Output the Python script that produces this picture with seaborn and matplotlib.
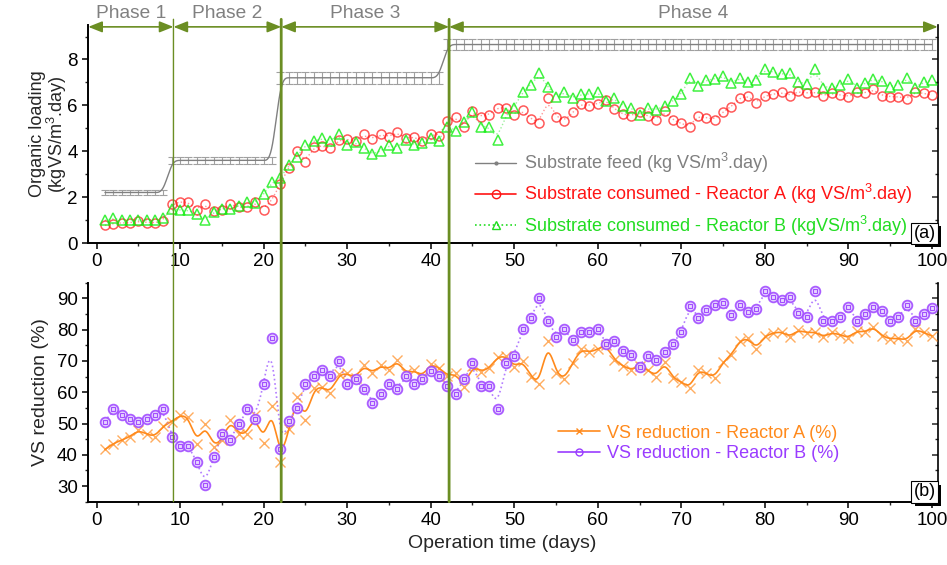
import numpy as np
import matplotlib
matplotlib.use("Agg")
import matplotlib.pyplot as plt
import seaborn as sns
from matplotlib.lines import Line2D
from matplotlib.patches import ConnectionPatch
from matplotlib.ticker import MultipleLocator
import matplotlib.patheffects as pe

# ---------------- data ----------------
days = list(range(1, 101))
feed = [2.2] * 8 + [3.6] * 13 + [7.2] * 20 + [8.65] * 59
feed_err = [0.11] * 8 + [0.17] * 13 + [0.25] * 20 + [0.26] * 59

consumed_a = [0.77, 0.85, 0.88, 0.88, 0.95, 0.89, 0.89, 0.95,
              1.69, 1.80, 1.77, 1.46, 1.68, 1.40, 1.46, 1.72, 1.55, 1.55, 1.78, 1.46, 1.87,
              2.59, 3.28, 4.00, 3.51, 4.20, 4.24, 4.12, 4.48, 4.53, 4.44, 4.73, 4.53, 4.73, 4.63,
              4.82, 4.56, 4.63, 4.44, 4.73, 4.67,
              5.31, 5.50, 5.07, 5.75, 5.50, 5.60, 5.90,
              5.90, 5.58, 5.79, 5.40, 5.21, 6.30, 5.50, 5.31, 5.69, 6.08, 5.98, 6.08, 6.23, 5.84,
              5.61, 5.55, 5.69, 5.55, 5.36, 5.75, 5.36, 5.21, 5.07, 5.55, 5.46,
              5.38, 5.72, 5.94, 6.33, 6.42, 6.09, 6.42, 6.48, 6.57, 6.41, 6.62, 6.52, 6.59, 6.42,
              6.52, 6.45, 6.38, 6.57, 6.52, 6.71, 6.42, 6.38, 6.38, 6.28, 6.59, 6.52, 6.45]

consumed_b = [0.99, 1.07, 1.02, 1.02, 0.99, 0.99, 1.02, 1.07,
              1.50, 1.43, 1.43, 1.26, 0.99, 1.33, 1.50, 1.47, 1.61, 1.80, 1.75, 2.12, 2.64,
              2.82, 3.39, 3.76, 4.27, 4.44, 4.56, 4.44, 4.73, 4.27, 4.39, 4.15, 3.86, 4.00, 4.27,
              4.15, 4.48, 4.27, 4.34, 4.56, 4.44,
              5.07, 4.88, 5.26, 5.69, 5.07, 5.07, 4.48,
              5.65, 5.90, 6.59, 6.89, 7.40, 6.81, 6.38, 6.59, 6.30, 6.48, 6.48, 6.59, 6.19, 6.30,
              5.98, 5.90, 5.58, 5.90, 5.79, 5.98, 6.19, 6.48, 7.21, 6.86, 7.10,
              7.15, 7.29, 6.96, 7.21, 7.03, 7.10, 7.58, 7.44, 7.35, 7.40, 7.00, 6.91, 7.58, 6.77,
              6.77, 6.89, 7.15, 6.77, 6.96, 7.15, 7.06, 6.81, 6.89, 7.21, 6.77, 7.00, 7.10]

vs_a = [41.7, 43.6, 44.7, 45.8, 47.9, 46.6, 45.8, 49.3, 50.6, 52.7, 52.2, 43.6, 49.8, 42.6,
        44.7, 51.1, 46.6, 46.8, 52.7, 43.9, 55.7, 37.8, 48.1, 58.4,
        51.1, 61.2, 61.7, 59.8, 65.7, 66.0, 64.5, 68.7, 66.0, 68.7, 67.1, 70.3, 66.0, 67.1,
        65.0, 69.0, 67.9, 65.2, 66.0, 61.7, 68.5, 66.6, 67.6, 71.3,
        71.6, 68.0, 70.1, 65.0, 62.6, 76.5, 66.2, 64.1, 69.4, 73.8, 72.7, 73.8, 75.1, 70.3,
        68.4, 67.1, 68.4, 67.1, 65.0, 69.8, 64.4, 63.4, 61.2, 67.1, 66.0,
        64.7, 69.7, 71.9, 76.5, 77.3, 73.8, 78.0, 78.9, 79.4, 77.6, 80.0, 78.9, 79.4, 77.6,
        79.1, 78.4, 77.3, 79.7, 79.1, 81.0, 78.0, 77.0, 77.3, 76.5, 80.2, 79.1, 78.0]

vs_b = [50.6, 54.5, 52.7, 51.6, 50.6, 51.6, 52.7, 54.5, 45.8, 42.9, 42.9, 37.8, 30.3, 39.4,
        46.5, 44.7, 49.7, 54.5, 51.6, 62.6, 77.4, 41.8, 50.8, 55.1,
        62.5, 65.3, 67.1, 65.3, 70.0, 62.5, 64.2, 61.0, 56.6, 59.4, 62.5, 61.0, 65.3, 62.5,
        64.2, 66.9, 65.3, 62.0, 59.4, 64.2, 69.2, 62.0, 62.0, 54.7,
        69.2, 71.7, 80.1, 83.8, 90.0, 82.8, 77.8, 80.1, 76.7, 79.1, 79.1, 80.2, 75.3, 76.5,
        73.2, 72.0, 68.0, 71.7, 70.3, 73.0, 75.4, 79.1, 87.7, 83.8, 86.3,
        87.8, 88.6, 84.7, 87.9, 85.5, 86.5, 92.4, 90.5, 89.5, 90.3, 85.2, 83.9, 92.4, 82.9,
        82.9, 83.9, 87.2, 82.9, 85.0, 87.4, 86.1, 82.9, 83.9, 87.9, 82.9, 85.0, 86.9]

phase_bounds = [9.2, 22.1, 42.2]
phase_labels = ["Phase 1", "Phase 2", "Phase 3", "Phase 4"]
x_ticks = list(range(0, 101, 10))
top_yticks = [0, 2, 4, 6, 8]
bot_yticks = [30, 40, 50, 60, 70, 80, 90]

top_labels = ["Substrate feed (kg VS/m$^3$.day)",
              "Substrate consumed - Reactor A (kg VS/m$^3$.day)",
              "Substrate consumed - Reactor B (kgVS/m$^3$.day)"]
bot_labels = ["VS reduction - Reactor A (%)", "VS reduction - Reactor B (%)"]

# ---------------- style ----------------
GRAY = "#808080"
RED = "#ff1414"
GREEN = "#22dd22"
ORANGE = "#ff8a1c"
PURPLE = "#9a3cff"
OLIVE = "#6b8e23"

sns.set_theme(style="ticks")
plt.rcParams["font.family"] = ["Liberation Sans", "DejaVu Sans"]
plt.rcParams["mathtext.default"] = "regular"


def bspline(x, y, n=16):
    """Uniform cubic B-spline connection (Origin-style) through control points."""
    P = np.column_stack([np.asarray(x, float), np.asarray(y, float)])
    P = np.vstack([P[0], P[0], P, P[-1], P[-1]])
    t = np.linspace(0, 1, n, endpoint=False)
    b0 = (1 - t) ** 3 / 6
    b1 = (3 * t ** 3 - 6 * t ** 2 + 4) / 6
    b2 = (-3 * t ** 3 + 3 * t ** 2 + 3 * t + 1) / 6
    b3 = t ** 3 / 6
    pts = []
    for i in range(1, len(P) - 2):
        seg = (np.outer(b0, P[i - 1]) + np.outer(b1, P[i]) +
               np.outer(b2, P[i + 1]) + np.outer(b3, P[i + 2]))
        pts.append(seg)
    pts.append(P[-1][None, :])
    pts = np.vstack(pts)
    return pts[:, 0], pts[:, 1]


fig = plt.figure(figsize=(9.47, 5.65), dpi=100)
ax1 = fig.add_axes([0.0932, 0.5699, 0.897, 0.3858])
ax2 = fig.add_axes([0.0932, 0.1120, 0.897, 0.3876])

FS = 13.5

# ---------------- top panel ----------------
ax1.errorbar(days, feed, yerr=feed_err, fmt="none", ecolor="#a0a0a0",
             elinewidth=0.8, capsize=3, capthick=0.8, zorder=2)
sx, sy = bspline(days, feed)
sns.lineplot(x=sx, y=sy, color=GRAY, lw=1.0, ax=ax1, estimator=None, zorder=3)

sx, sy = bspline(days, consumed_a)
sns.lineplot(x=sx, y=sy, color=RED, lw=1.0, ls=":", alpha=0.45, ax=ax1,
             estimator=None, zorder=3)
sns.lineplot(x=days, y=consumed_a, ax=ax1, estimator=None, linestyle="",
             marker="o", markersize=6.5, markerfacecolor="none",
             markeredgecolor=RED, markeredgewidth=1.1, alpha=0.7, zorder=4)

sx, sy = bspline(days, consumed_b)
sns.lineplot(x=sx, y=sy, color=GREEN, lw=1.0, ls=":", alpha=0.45, ax=ax1,
             estimator=None, zorder=3)
sns.lineplot(x=days, y=consumed_b, ax=ax1, estimator=None, linestyle="",
             marker="^", markersize=7, markerfacecolor="none",
             markeredgecolor="#11ee11", markeredgewidth=1.1, alpha=0.8, zorder=4)

# ---------------- bottom panel ----------------
sx, sy = bspline(days, vs_a)
sns.lineplot(x=sx, y=sy, color=ORANGE, lw=1.2, ax=ax2, estimator=None, zorder=3)
sns.lineplot(x=days, y=vs_a, ax=ax2, estimator=None, linestyle="",
             marker="x", markersize=6.5, markeredgecolor=ORANGE,
             markeredgewidth=1.0, alpha=0.7, zorder=4)

sx, sy = bspline(days, vs_b)
sns.lineplot(x=sx, y=sy, color="#b27cff", lw=1.2, ls=":", ax=ax2,
             estimator=None, zorder=3)
sns.lineplot(x=days, y=vs_b, ax=ax2, estimator=None, linestyle="",
             marker="o", markersize=7, markerfacecolor="#e6d4ff",
             markeredgecolor="#a24dff", markeredgewidth=1.3, alpha=0.9, zorder=4)
sns.lineplot(x=days, y=vs_b, ax=ax2, estimator=None, linestyle="",
             marker="s", markersize=2.6, markerfacecolor="none",
             markeredgecolor="#a24dff", markeredgewidth=0.8, zorder=5)

# ---------------- axes formatting ----------------
for ax in (ax1, ax2):
    ax.set_xlim(-1, 100.7)
    ax.set_xticks(x_ticks)
    ax.xaxis.set_minor_locator(MultipleLocator(5))
    ax.tick_params(which="major", direction="out", length=4.5, width=1.1,
                   labelsize=FS, colors="black", pad=3)
    ax.tick_params(which="minor", direction="out", length=2.5, width=1.0)
    ax.spines["top"].set_visible(False)
    ax.spines["right"].set_visible(False)
    for s in ("left", "bottom"):
        ax.spines[s].set_linewidth(1.4)
        ax.spines[s].set_color("black")
    ax.set_xlabel("")

ax1.set_ylim(0, 9.5)
ax1.set_yticks(top_yticks)
ax1.yaxis.set_minor_locator(MultipleLocator(1))
ax2.set_ylim(25, 95)
ax2.set_yticks(bot_yticks)
ax2.yaxis.set_minor_locator(MultipleLocator(5))

for ax, ticks, minor in ((ax1, top_yticks, 1), (ax2, bot_yticks, 5)):
    sec = ax.secondary_yaxis("right")
    sec.set_yticks(ticks)
    sec.yaxis.set_minor_locator(MultipleLocator(minor))
    sec.tick_params(which="major", direction="in", length=4.5, width=1.1, labelright=False)
    sec.tick_params(which="minor", direction="in", length=2.5, width=1.0)
    sec.spines["right"].set_linewidth(1.2)
    sec.spines["right"].set_color("black")

ax1.set_ylabel("Organic loading\n(kgVS/m$^3$.day)", fontsize=13, labelpad=-1,
               linespacing=0.95)
ax2.set_ylabel("VS reduction (%)", fontsize=14, labelpad=6)
ax2.set_xlabel("Operation time (days)", fontsize=14, x=0.487, labelpad=4)
ax1.set_xlabel("")

# ---------------- phase lines, arrows, labels ----------------
for i, b in enumerate(phase_bounds):
    con = ConnectionPatch(xyA=(b, 9.75), coordsA=ax1.transData,
                          xyB=(b, 25), coordsB=ax2.transData,
                          color=OLIVE, lw=1.0 if i == 0 else 2.0, zorder=6)
    fig.add_artist(con)

x0, x1 = ax1.get_xlim()
edges = [x0] + phase_bounds + [x1]
for i, lab in enumerate(phase_labels):
    ax1.annotate("", xy=(edges[i + 1], 9.42), xytext=(edges[i], 9.42),
                 arrowprops=dict(arrowstyle="<|-|>,head_length=0.7,head_width=0.28",
                                 color=OLIVE, lw=1.2, shrinkA=0, shrinkB=0,
                                 mutation_scale=12),
                 annotation_clip=False)
    ax1.text((edges[i] + edges[i + 1]) / 2, 10.02, lab, ha="center", va="center",
             color=GRAY, fontsize=13.8, clip_on=False)


# ---------------- panel tags ----------------
def panel_tag(ax, s):
    t = ax.text(0.9975, 0.006, s, transform=ax.transAxes, ha="right", va="bottom",
                fontsize=13, color="black", zorder=8, clip_on=False,
                bbox=dict(boxstyle="square,pad=0.12", fc="white", ec="black", lw=0.8))
    t.get_bbox_patch().set_path_effects([
        pe.SimplePatchShadow(offset=(2.5, -2.5), shadow_rgbFace="black", alpha=1.0),
        pe.Normal()])


panel_tag(ax1, "(a)")
panel_tag(ax2, "(b)")

# ---------------- legends ----------------
top_handles = [
    Line2D([], [], color=GRAY, lw=1.0, marker=".", markersize=4),
    Line2D([], [], color=RED, lw=1.2, marker="o", markersize=6, markerfacecolor="none"),
    Line2D([], [], color=GREEN, lw=1.2, ls=":", marker="^", markersize=6,
           markerfacecolor="none"),
]
leg1 = ax1.legend(top_handles, top_labels, loc="lower left", bbox_to_anchor=(0.455, 0.025),
                  frameon=False, fontsize=13, handlelength=2.3, handletextpad=0.4,
                  labelspacing=0.4, borderpad=0, borderaxespad=0)
for t, c in zip(leg1.get_texts(), [GRAY, RED, GREEN]):
    t.set_color(c)

bot_handles = [
    Line2D([], [], color=ORANGE, lw=1.2, marker="x", markersize=5),
    Line2D([], [], color=PURPLE, lw=1.2, marker="o", markersize=5, markerfacecolor="none"),
]
leg2 = ax2.legend(bot_handles, bot_labels, loc="lower left", bbox_to_anchor=(0.553, 0.18),
                  frameon=False, fontsize=13, handlelength=2.3, handletextpad=0.4,
                  labelspacing=0.2, borderpad=0, borderaxespad=0)
for t, c in zip(leg2.get_texts(), [ORANGE, PURPLE]):
    t.set_color(c)

fig.savefig("out.png", dpi=100)
